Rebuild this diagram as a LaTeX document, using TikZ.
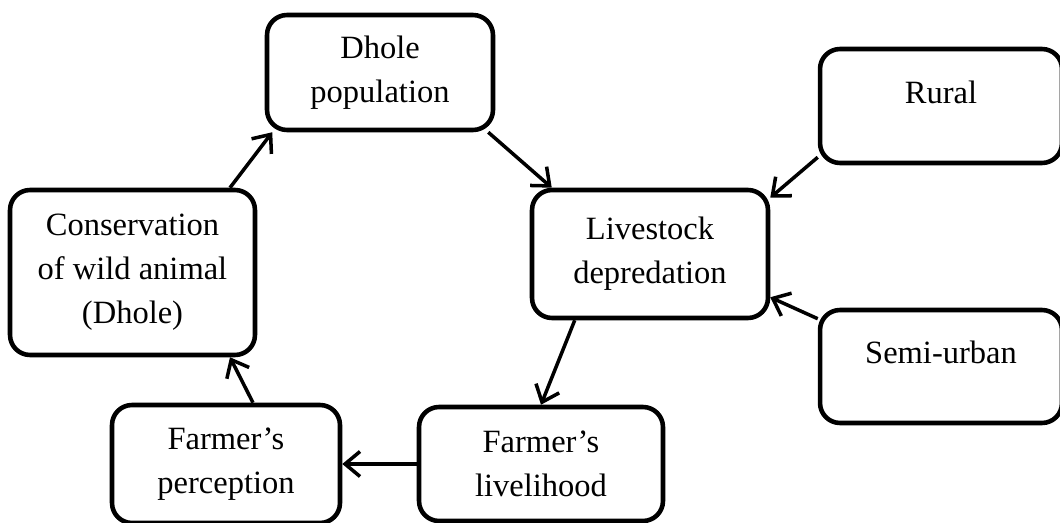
\documentclass[tikz,border=0pt]{standalone}
\usepackage{fontspec}
\setmainfont{Liberation Serif}
\usetikzlibrary{arrows.meta}

\begin{document}
\begin{tikzpicture}[x=0.02cm,y=-0.02cm,
    font=\fontsize{18.5}{25}\selectfont,
    box/.style={draw,line width=2.6pt,rounded corners=0.4cm,align=center},
    link/.style={line width=2pt,-{Straight Barb[length=3mm,width=5mm,line width=2pt]}}]
        \useasboundingbox (0,0) rectangle (1060,523);
        \node[box,minimum width=4.52cm,minimum height=2.3cm] (dhole) at (380,72.5) {Dhole\\population};
        \node[box,minimum width=4.9cm,minimum height=3.3cm] (cons) at (132.5,272.5) {Conservation\\of wild animal\\(Dhole)};
        \node[box,minimum width=4.84cm,minimum height=2.28cm,text depth=16pt] (rural) at (941,106) {Rural};
        \node[box,minimum width=4.72cm,minimum height=2.56cm] (depr) at (650,254) {Livestock\\depredation};
        \node[box,minimum width=4.84cm,minimum height=2.26cm,text depth=16pt] (semi) at (941,366.5) {Semi-urban};
        \node[box,minimum width=4.56cm,minimum height=2.36cm] (perc) at (226,464) {Farmer's\\perception};
        \node[box,minimum width=4.88cm,minimum height=2.28cm] (liveli) at (541,464) {Farmer's\\livelihood};

        \draw[link] ([xshift=1.95cm]cons.north) -- ([xshift=0.15cm]dhole.south west);
        \draw[link] ([xshift=-0.14cm]dhole.south east) -- ([xshift=0.44cm]depr.north west);
        \draw[link] ([yshift=0.16cm]rural.south west) -- ([yshift=-0.2cm]depr.north east);
        \draw[link] ([yshift=-0.22cm]semi.north west) -- ([yshift=0.46cm]depr.south east);
        \draw[link] ([xshift=0.9cm]depr.south west) -- (liveli.north);
        \draw[link] (liveli.west) -- (perc.east);
        \draw[link] ([xshift=0.54cm]perc.north) -- ([xshift=1.95cm]cons.south);
\end{tikzpicture}
\end{document}
